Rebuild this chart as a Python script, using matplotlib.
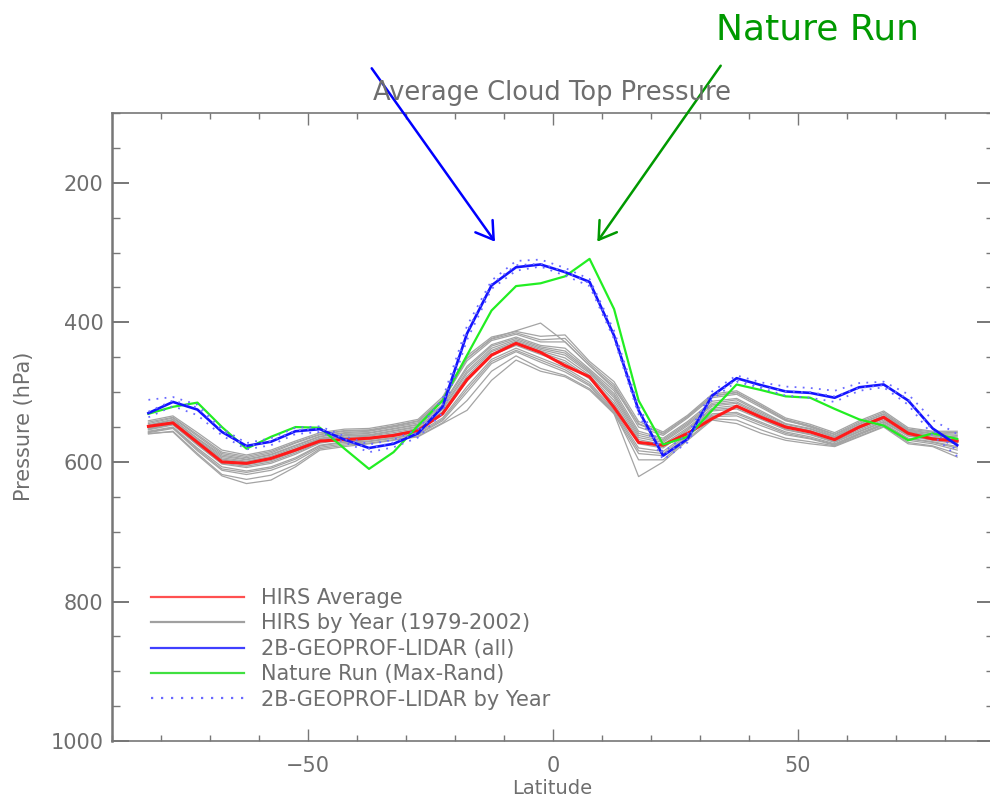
import matplotlib
matplotlib.use("Agg")
import matplotlib.pyplot as plt
from matplotlib.ticker import MultipleLocator
from matplotlib.lines import Line2D

# latitude bin centres (deg)
lat = [-82.5, -77.5, -72.5, -67.5, -62.5, -57.5, -52.5, -47.5, -42.5, -37.5,
       -32.5, -27.5, -22.5, -17.5, -12.5, -7.5, -2.5, 2.5, 7.5, 12.5,
       17.5, 22.5, 27.5, 32.5, 37.5, 42.5, 47.5, 52.5, 57.5, 62.5,
       67.5, 72.5, 77.5, 82.5]

hirs_avg = [549, 544, 572, 600, 602, 595, 583, 570, 568, 566, 562, 555, 531, 482,
            447, 430, 443, 462, 478, 522, 572, 576, 559, 538, 520, 536, 550, 557,
            568, 550, 536, 559, 567, 570]

lidar_all = [530, 514, 525, 557, 577, 571, 556, 553, 568, 580, 574, 559, 521, 416,
             347, 321, 317, 328, 342, 419, 526, 591, 567, 505, 480, 490, 499, 501,
             508, 493, 489, 512, 552, 576]

nature_run = [531, 521, 515, 550, 581, 564, 550, 551, 581, 610, 586, 548, 512, 447,
              383, 348, 344, 334, 309, 381, 512, 575, 564, 526, 489, 497, 506, 508,
              524, 539, 548, 569, 559, 567]

# 2B-GEOPROF-LIDAR individual years
lidar_years = [
    [511, 507, 518, 552, 573, 566, 551, 549, 563, 575, 568, 553, 510, 405, 340, 312,
     310, 322, 338, 412, 520, 586, 560, 499, 476, 486, 492, 494, 498, 487, 485, 503, 540, 560],
    [536, 520, 533, 562, 582, 576, 560, 557, 572, 586, 579, 565, 530, 425, 352, 326,
     320, 333, 348, 424, 532, 597, 572, 510, 485, 494, 505, 508, 514, 498, 493, 518, 562, 592],
    [528, 512, 522, 555, 578, 570, 555, 552, 567, 581, 572, 558, 518, 413, 345, 318,
     316, 327, 344, 416, 528, 590, 568, 506, 482, 492, 499, 500, 506, 494, 490, 510, 555, 584],
]

# HIRS individual years
hirs_years = [
    [541, 534, 558, 583, 590, 583, 570, 558, 553, 552, 546, 539, 507, 448, 421, 413, 420,
     418, 456, 485, 542, 557, 533, 503, 498, 517, 537, 546, 558, 541, 527, 551, 556, 556],
    [545, 537, 563, 588, 594, 587, 573, 561, 556, 555, 549, 542, 512, 455, 426, 417, 428,
     428, 462, 492, 550, 562, 537, 508, 503, 522, 541, 549, 561, 545, 531, 554, 559, 560],
    [548, 540, 567, 592, 597, 590, 577, 564, 559, 558, 552, 546, 518, 463, 432, 421, 433,
     437, 467, 498, 556, 566, 542, 513, 509, 527, 545, 552, 564, 548, 534, 556, 562, 564],
    [550, 543, 570, 596, 600, 594, 581, 567, 562, 561, 555, 549, 523, 470, 437, 425, 437,
     444, 471, 505, 562, 570, 546, 518, 514, 531, 548, 555, 567, 551, 537, 558, 565, 568],
    [552, 545, 573, 600, 604, 598, 585, 570, 565, 563, 558, 552, 528, 477, 442, 429, 441,
     451, 476, 512, 568, 575, 551, 523, 519, 535, 551, 558, 570, 554, 540, 561, 567, 571],
    [554, 547, 576, 603, 608, 602, 589, 573, 568, 566, 561, 555, 532, 484, 447, 433, 446,
     458, 481, 519, 574, 580, 555, 527, 524, 539, 554, 561, 572, 557, 543, 563, 569, 574],
    [556, 550, 580, 607, 613, 607, 594, 576, 571, 568, 563, 558, 537, 492, 453, 437, 451,
     465, 486, 526, 580, 585, 559, 531, 529, 543, 557, 564, 574, 559, 545, 566, 571, 578],
    [558, 552, 584, 612, 618, 612, 599, 579, 574, 571, 566, 561, 541, 500, 459, 442, 457,
     471, 491, 531, 588, 591, 563, 535, 534, 548, 561, 567, 576, 561, 547, 569, 574, 583],
    [560, 556, 588, 618, 625, 619, 604, 581, 576, 573, 568, 563, 544, 512, 470, 448, 466,
     476, 495, 529, 597, 597, 567, 538, 540, 554, 566, 571, 577, 563, 549, 572, 577, 588],
    [547, 539, 566, 590, 596, 589, 576, 563, 558, 556, 550, 544, 514, 452, 423, 412, 401,
     428, 462, 495, 545, 559, 535, 506, 500, 520, 540, 550, 563, 546, 532, 555, 560, 562],
    [559, 557, 590, 620, 631, 626, 607, 583, 578, 574, 569, 564, 545, 526, 483, 454, 470,
     478, 497, 531, 621, 600, 569, 540, 545, 559, 569, 574, 578, 564, 550, 574, 578, 593],
    [551, 544, 571, 597, 602, 596, 583, 568, 563, 562, 556, 550, 525, 473, 440, 427, 439,
     447, 473, 508, 565, 572, 548, 520, 516, 533, 549, 556, 568, 552, 538, 560, 566, 569],
    [543, 536, 561, 586, 592, 585, 572, 560, 555, 554, 548, 541, 510, 451, 424, 415, 425,
     423, 459, 489, 546, 560, 535, 505, 501, 519, 539, 548, 560, 543, 529, 553, 557, 558],
    [549, 542, 569, 594, 599, 592, 579, 566, 561, 559, 553, 547, 520, 466, 434, 423, 435,
     441, 469, 502, 559, 568, 544, 516, 511, 529, 546, 553, 565, 550, 535, 557, 563, 566],
    [553, 546, 575, 602, 606, 600, 587, 572, 566, 565, 560, 554, 530, 480, 445, 431, 443,
     455, 479, 516, 571, 578, 553, 525, 522, 537, 553, 560, 571, 556, 542, 562, 568, 572],
    [557, 551, 582, 610, 615, 609, 596, 577, 572, 570, 565, 560, 539, 496, 456, 440, 454,
     468, 489, 528, 584, 588, 561, 533, 531, 545, 559, 566, 575, 560, 546, 567, 572, 580],
]

labels = ["HIRS Average", "HIRS by Year (1979-2002)", "2B-GEOPROF-LIDAR (all)",
          "Nature Run (Max-Rand)", "2B-GEOPROF-LIDAR by Year"]

txt_col = "#6e6e6e"

fig = plt.figure(figsize=(9.9, 8.01), dpi=100)
ax = fig.add_axes([0.1128, 0.0748, 0.8912, 0.7841])

for yr in hirs_years:
    ax.plot(lat, yr, color="#a4a4a4", lw=0.9)
ax.plot(lat, hirs_avg, color="#ff1a1a", lw=2.2)
ax.plot(lat, nature_run, color="#22ee22", lw=1.6)
ax.plot(lat, lidar_all, color="#1414ff", lw=1.9)
for yr in lidar_years:
    ax.plot(lat, yr, color="#6a6aff", lw=1.3, ls=(0, (1, 3.5)))

ax.set_xlim(-90, 90)
ax.set_ylim(1000, 100)
ax.set_xticks([-50, 0, 50])
ax.set_yticks([200, 400, 600, 800, 1000])
ax.xaxis.set_minor_locator(MultipleLocator(10))
ax.yaxis.set_minor_locator(MultipleLocator(50))
ax.tick_params(which="both", direction="in", top=True, right=True,
               colors="#777777", labelcolor=txt_col, labelsize=15)
ax.tick_params(axis="y", which="major", length=12, width=1.4, pad=6)
ax.tick_params(axis="y", which="minor", length=6, width=1.0)
ax.tick_params(axis="x", which="major", length=8.5, width=1.0, pad=11)
ax.tick_params(axis="x", which="minor", length=4.3, width=1.0)
for s in ax.spines.values():
    s.set_color("#777777")
    s.set_linewidth(1.2)
ax.spines["left"].set_linewidth(1.8)

fig.text(552 / 990, 1 - 100 / 801, "Average Cloud Top Pressure", ha="center",
         va="baseline", fontsize=18.5, color=txt_col)
fig.text(24 / 990, 0.4675, "Pressure (hPa)", rotation=90, ha="center",
         va="center", fontsize=15, color=txt_col)
fig.text(552 / 990, 1 - 789 / 801, "Latitude", ha="center", va="center",
         fontsize=14, color=txt_col)

handles = [
    Line2D([], [], color="#ff5050", lw=1.6),
    Line2D([], [], color="#a0a0a0", lw=1.6),
    Line2D([], [], color="#4040ff", lw=1.6),
    Line2D([], [], color="#40e040", lw=1.6),
    Line2D([], [], color="#6a6aff", lw=1.6, ls=(0, (1, 3.5))),
]
leg = ax.legend(handles, labels, loc="upper left", bbox_to_anchor=(150.7 / 990, 1 - 588 / 801),
                bbox_transform=fig.transFigure, frameon=False, fontsize=15,
                handlelength=4.5, handletextpad=0.8, labelspacing=0.26,
                borderpad=0, borderaxespad=0)
for t in leg.get_texts():
    t.set_color(txt_col)

# arrows and annotation
ax.annotate("", xy=(495, 801 - 241.7), xycoords="figure pixels",
            xytext=(371.7, 801 - 68.3), textcoords="figure pixels",
            arrowprops=dict(arrowstyle="->,head_length=0.6,head_width=0.38",
                            color="#0000ff", lw=1.8, mutation_scale=20,
                            shrinkA=0, shrinkB=0), annotation_clip=False)
ax.annotate("", xy=(597.3, 801 - 241.7), xycoords="figure pixels",
            xytext=(720.7, 801 - 65.7), textcoords="figure pixels",
            arrowprops=dict(arrowstyle="->,head_length=0.6,head_width=0.38",
                            color="#009900", lw=1.8, mutation_scale=20,
                            shrinkA=0, shrinkB=0), annotation_clip=False)
fig.text(817 / 990, 1 - 30 / 801, "Nature Run", ha="center", va="center",
         fontsize=26, color="#009900")

fig.savefig("out.png", dpi=100)
